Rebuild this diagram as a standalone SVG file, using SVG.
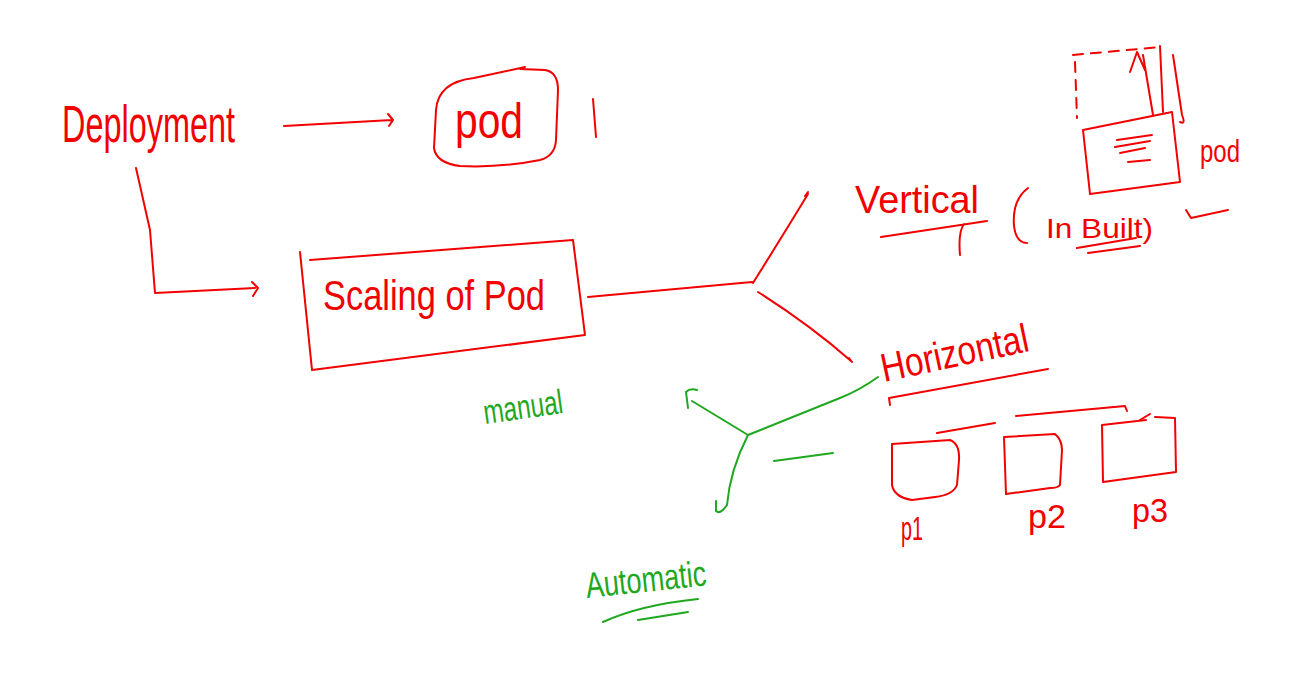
<svg xmlns="http://www.w3.org/2000/svg" width="1292" height="680" viewBox="0 0 1292 680">
<style>
.r{fill:none;stroke:#f20000;stroke-width:2;stroke-linecap:round;stroke-linejoin:round}
.g{fill:none;stroke:#1fa81f;stroke-width:2;stroke-linecap:round;stroke-linejoin:round}
.rt{fill:#f20000;font-family:"Liberation Sans",Arial,sans-serif}
.gt{fill:#1fa81f;font-family:"Liberation Sans",Arial,sans-serif}
.d{stroke-dasharray:10 8}
</style>
<rect width="1292" height="680" fill="#fff"/>
<g id="deployment">
<text class="rt" x="62" y="142" font-size="52" textLength="173" lengthAdjust="spacingAndGlyphs">Deployment</text>
</g>
<g id="pod">
<path class="r" d="M525,67 L474,78 Q438,82 436,110 L434,148 Q436,163 460,166 Q500,168 540,160 Q555,156 556,140 L558,90 Q558,72 545,70 L520,69"/>
<text class="rt" x="455" y="138" font-size="50" textLength="68" lengthAdjust="spacingAndGlyphs">pod</text>
<path class="r" d="M593,99 L596,137"/>
</g>
<g id="scaling">
<path class="r" d="M310,260 L573,240 L585,335 L312,370 L300,252"/>
<text class="rt" x="323" y="310" font-size="42" textLength="222" lengthAdjust="spacingAndGlyphs">Scaling of Pod</text>
</g>
<g id="vertical">
<text class="rt" x="855" y="213" font-size="38" textLength="124" lengthAdjust="spacingAndGlyphs">Vertical</text>
<path class="r" d="M881,237 L987,221 M964,224 Q958,232 960,255"/>
<path class="r" d="M1028,188 Q1012,200 1014,226 Q1016,243 1027,243"/>
<text class="rt" x="1046" y="238" font-size="28" textLength="107" lengthAdjust="spacingAndGlyphs">In Built)</text>
<path class="r" d="M1077,248 L1136,238 M1088,253 L1140,246"/>
</g>
<g id="pod-vertical">
<path class="r" d="M1083,130 L1172,112 L1180,182 L1090,194 Z"/>
<path class="r d" d="M1075,62 L1077,118 M1073,55 L1160,47"/>
<path class="r" d="M1160,46 L1163,112 M1173,55 L1182,115 Q1186,125 1180,122"/>
<path class="r" d="M1153,115 L1143,55 M1130,72 L1137,52 L1145,70"/>
<path class="r" d="M1117,140 L1152,135 M1115,147 L1150,141 M1120,153 L1145,148 M1128,162 L1150,160"/>
<text class="rt" x="1200" y="162" font-size="32" textLength="40" lengthAdjust="spacingAndGlyphs">pod</text>
<path class="r" d="M1186,210 L1191,218 L1228,210"/>
</g>
<g id="horizontal">
<text class="rt" x="884" y="382" font-size="40" textLength="150" lengthAdjust="spacingAndGlyphs" transform="rotate(-12 884 382)">Horizontal</text>
<path class="r" d="M890,405 L889,398 L1048,369"/>
<path class="r" d="M937,433 L995,423 M1016,416 L1125,406 L1127,411 M1140,420 L1150,414"/>
</g>
<g id="p1">
<path class="r" d="M892,444 L950,440 Q960,444 959,460 L957,485 Q953,495 935,497 L912,500 Q894,497 892,485 Z"/>
<text class="rt" x="901" y="540" font-size="34" textLength="22" lengthAdjust="spacingAndGlyphs">p1</text>
</g>
<g id="p2">
<path class="r" d="M1004,437 L1055,434 Q1062,440 1062,450 L1060,485 Q1058,488 1050,488 L1006,494 Z"/>
<text class="rt" x="1028" y="528" font-size="34" textLength="38" lengthAdjust="spacingAndGlyphs">p2</text>
</g>
<g id="p3">
<path class="r" d="M1146,420 L1102,425 L1103,482 L1176,472 L1175,418 L1155,417"/>
<text class="rt" x="1132" y="522" font-size="34" textLength="36" lengthAdjust="spacingAndGlyphs">p3</text>
</g>
<g id="manual">
<text class="gt" x="485" y="424" font-size="34" textLength="80" lengthAdjust="spacingAndGlyphs" transform="rotate(-8 485 424)">manual</text>
</g>
<g id="automatic">
<text class="gt" x="587" y="598" font-size="36" textLength="121" lengthAdjust="spacingAndGlyphs" transform="rotate(-6 587 598)">Automatic</text>
<path class="g" d="M603,622 Q640,605 698,599 M638,620 L688,612"/>
</g>
<g id="connectors">
<path class="r" d="M284,126 L392,120 M388,114 L393,120 L389,126"/>
<path class="r" d="M136,168 L150,230 L155,293 L255,288 M252,282 L258,288 L253,296"/>
<path class="r" d="M588,297 L752,282 M753,283 Q780,240 808,194 M805,196 L808,192"/>
<path class="r" d="M758,292 Q810,325 851,361 M849,358 L852,362"/>
<path class="g" d="M878,377 Q860,390 840,398 L748,435 L692,401 M688,408 L686,392 Q690,388 697,390"/>
<path class="g" d="M748,435 Q730,470 727,505 Q720,515 716,511 L716,501"/>
<path class="g" d="M774,461 L833,453"/>
</g>
</svg>
